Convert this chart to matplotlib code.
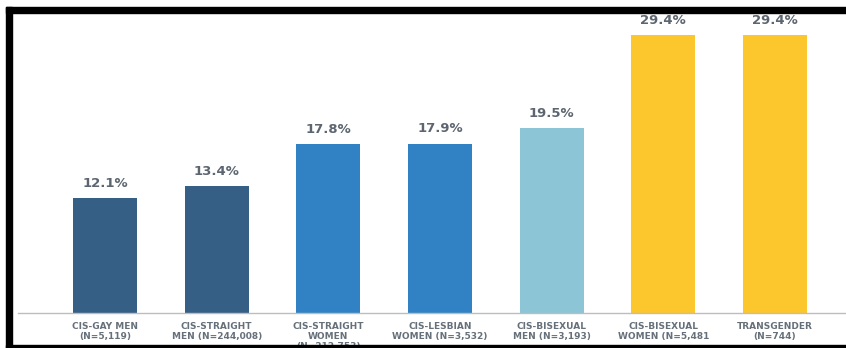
import matplotlib
matplotlib.use("Agg")
import matplotlib.pyplot as plt
from matplotlib.patches import Rectangle

# survey groups, share reporting (percent) and bar colour per group
groups = [
    "CIS-GAY MEN\n(N=5,119)",
    "CIS-STRAIGHT\nMEN (N=244,008)",
    "CIS-STRAIGHT\nWOMEN\n(N=212,753)",
    "CIS-LESBIAN\nWOMEN (N=3,532)",
    "CIS-BISEXUAL\nMEN (N=3,193)",
    "CIS-BISEXUAL\nWOMEN (N=5,481",
    "TRANSGENDER\n(N=744)",
]
shares = [12.1, 13.4, 17.8, 17.9, 19.5, 29.4, 29.4]
colors = ["#365f86", "#365f86", "#3182c4", "#3182c4", "#8cc6d6", "#fcc72c", "#fcc72c"]

W, H = 846, 348
fig = plt.figure(figsize=(W / 100, H / 100), dpi=100)
fig.patch.set_facecolor("white")

base_y = 312.5
top_y = 13
ax = fig.add_axes([18 / W, (H - base_y) / H, 1 - 18 / W, (base_y - top_y) / H])

x = list(range(len(groups)))
bars = ax.bar(x, shares, width=0.575, color=colors, zorder=2)

for b, v in zip(bars, shares):
    ax.annotate(f"{v}%", (b.get_x() + b.get_width() / 2, v),
                xytext=(0, 6), textcoords="offset points",
                ha="center", va="bottom", fontsize=9.5, fontweight="bold",
                color="#5d6670", family="DejaVu Sans")

ax.set_xlim(-0.78, 6.636)
ax.set_ylim(0, 31.73)
ax.set_xticks(x)
ax.set_xticklabels(groups, fontsize=6.5, fontweight="bold", color="#66707a",
                   family="DejaVu Sans", linespacing=1.1)
ax.tick_params(axis="x", length=0, pad=7)
ax.set_yticks([])
for side in ["top", "right", "left"]:
    ax.spines[side].set_visible(False)
ax.spines["bottom"].set_color("#bdbdbd")
ax.spines["bottom"].set_linewidth(1.0)

# black frame on top, left and bottom
def frame(x0, y0, x1, y1):
    fig.add_artist(Rectangle((x0 / W, 1 - y1 / H), (x1 - x0) / W, (y1 - y0) / H,
                             transform=fig.transFigure, color="black", zorder=10))

frame(6, 7, W, 13)
frame(6, 7, 12, H)
frame(6, 345, W, H)

fig.savefig("out.png", dpi=100)
